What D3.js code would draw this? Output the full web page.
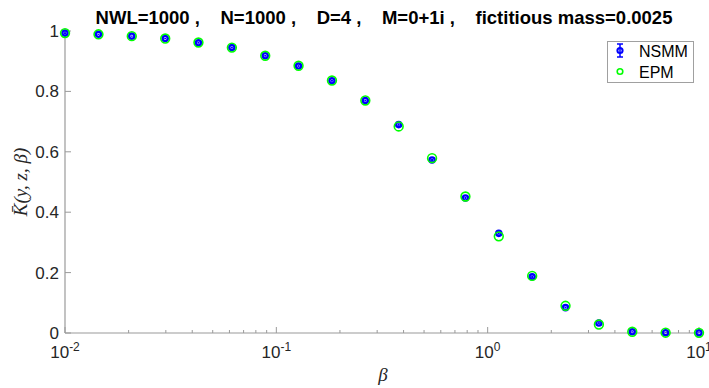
<!DOCTYPE html>
<html>
<head>
<meta charset="utf-8">
<script src="https://cdn.jsdelivr.net/npm/d3@7"></script>
<style>
  body { margin: 0; background: #fff; }
  svg { display: block; font-family: "Liberation Sans", Arial, sans-serif; }
</style>
</head>
<body>
<div id="chart"></div>
<script>
// data
const beta = [0.01, 0.0144, 0.0207, 0.0298, 0.0428, 0.0616, 0.0886, 0.1274, 0.1833, 0.2637,
              0.3793, 0.5456, 0.7848, 1.1288, 1.6238, 2.3357, 3.3598, 4.8329, 6.9519, 10];
const nsmm = [0.993, 0.989, 0.983, 0.975, 0.961, 0.945, 0.918, 0.884, 0.835, 0.770,
              0.690, 0.573, 0.447, 0.330, 0.186, 0.084, 0.033, 0.004, 0.001, 0.0005];
const nsmmErr = [0.003, 0.002, 0.002, 0.002, 0.003, 0.003, 0.003, 0.003, 0.003, 0.003,
                 0.004, 0.004, 0.004, 0.004, 0.004, 0.003, 0.003, 0.002, 0.001, 0.001];
const epm = [0.993, 0.989, 0.983, 0.975, 0.962, 0.945, 0.918, 0.885, 0.836, 0.770,
             0.684, 0.579, 0.452, 0.320, 0.189, 0.090, 0.028, 0.004, 0.001, 0.0005];
const xTicks = [0.01, 0.1, 1, 10];
const xExp = ["-2", "-1", "0", "1"];
const yTicks = [0, 0.2, 0.4, 0.6, 0.8, 1];
const title = "NWL=1000 ,    N=1000 ,    D=4 ,    M=0+1i ,    fictitious mass=0.0025";

const width = 709, height = 388;
const axisColor = "#9a9a9a", textColor = "#262626";

const svg = d3.select("#chart").append("svg")
  .attr("width", width).attr("height", height);

const x = d3.scaleLog().domain([0.01, 10]).range([65, 699]);
const y = d3.scaleLinear().domain([0, 1]).range([333, 31]);

// x axis: line + inward ticks (major and minor)
const minor = [];
[0.01, 0.1, 1].forEach(d => { for (let k = 2; k <= 9; k++) minor.push(d * k); });

const gx = svg.append("g");
gx.append("line")
  .attr("x1", x.range()[0]).attr("x2", x.range()[1])
  .attr("y1", y(0)).attr("y2", y(0))
  .attr("stroke", axisColor).attr("stroke-width", 1.2);
gx.selectAll("line.maj").data(xTicks).join("line").attr("class", "maj")
  .attr("x1", d => x(d)).attr("x2", d => x(d))
  .attr("y1", y(0)).attr("y2", y(0) - 6)
  .attr("stroke", axisColor);
gx.selectAll("line.min").data(minor).join("line").attr("class", "min")
  .attr("x1", d => x(d)).attr("x2", d => x(d))
  .attr("y1", y(0)).attr("y2", y(0) - 3)
  .attr("stroke", axisColor);
const xl = gx.selectAll("text").data(xTicks).join("text")
  .attr("x", d => x(d)).attr("y", 358)
  .attr("text-anchor", "middle")
  .attr("fill", textColor).attr("font-size", 17);
xl.append("tspan").text("10");
xl.append("tspan").attr("dy", -7).attr("font-size", 12).text((d, i) => xExp[i]);

// y axis
const gy = svg.append("g");
gy.append("line")
  .attr("x1", x(0.01)).attr("x2", x(0.01))
  .attr("y1", y(0)).attr("y2", y(1))
  .attr("stroke", axisColor).attr("stroke-width", 1.2);
gy.selectAll("line.tk").data(yTicks).join("line").attr("class", "tk")
  .attr("x1", x(0.01)).attr("x2", x(0.01) + 6)
  .attr("y1", d => y(d)).attr("y2", d => y(d))
  .attr("stroke", axisColor);
gy.selectAll("text").data(yTicks).join("text")
  .attr("x", 59).attr("y", d => y(d) + 6)
  .attr("text-anchor", "end")
  .attr("fill", textColor).attr("font-size", 17)
  .text(d => d3.format("")(d));

// axis labels
svg.append("text")
  .attr("x", 383).attr("y", 381)
  .attr("text-anchor", "middle")
  .attr("font-family", "Liberation Serif, serif").attr("font-style", "italic")
  .attr("font-size", 19).attr("fill", textColor)
  .text("β");
svg.append("text")
  .attr("transform", `translate(27,${y(0.5)}) rotate(-90)`)
  .attr("text-anchor", "middle")
  .attr("font-family", "Liberation Serif, serif").attr("font-style", "italic")
  .attr("font-size", 19).attr("fill", textColor)
  .text("K\u0304(y, z, β)");

// title
svg.append("text")
  .attr("x", 384).attr("y", 24)
  .attr("text-anchor", "middle")
  .attr("font-weight", "bold").attr("font-size", 18.5)
  .attr("fill", "#000")
  .style("white-space", "pre")
  .text(title);

// NSMM: error bars + blue circles
const pts = svg.append("g");
pts.selectAll("line.err").data(beta).join("line").attr("class", "err")
  .attr("x1", d => x(d)).attr("x2", d => x(d))
  .attr("y1", (d, i) => y(nsmm[i] - nsmmErr[i]))
  .attr("y2", (d, i) => y(nsmm[i] + nsmmErr[i]))
  .attr("stroke", "#0000ff").attr("stroke-width", 2);
pts.selectAll("circle.nsmm").data(beta).join("circle").attr("class", "nsmm")
  .attr("cx", d => x(d)).attr("cy", (d, i) => y(nsmm[i]))
  .attr("r", 2.6).attr("fill", "none")
  .attr("stroke", "#0000ff").attr("stroke-width", 2.4);
// EPM: green rings
pts.selectAll("circle.epm").data(beta).join("circle").attr("class", "epm")
  .attr("cx", d => x(d)).attr("cy", (d, i) => y(epm[i]))
  .attr("r", 4.4).attr("fill", "none")
  .attr("stroke", "#00ff00").attr("stroke-width", 1.6);

// legend
const lg = svg.append("g");
lg.append("rect")
  .attr("x", 607.5).attr("y", 41.5).attr("width", 86).attr("height", 41)
  .attr("fill", "#fff").attr("stroke", "#a0a0a0");
lg.append("line").attr("x1", 620).attr("x2", 620).attr("y1", 44).attr("y2", 57)
  .attr("stroke", "#0000ff").attr("stroke-width", 1.5);
[44, 57].forEach(v => lg.append("line")
  .attr("x1", 617).attr("x2", 623).attr("y1", v).attr("y2", v)
  .attr("stroke", "#0000ff").attr("stroke-width", 1.5));
lg.append("circle").attr("cx", 620).attr("cy", 50.5).attr("r", 2.6)
  .attr("fill", "none").attr("stroke", "#0000ff").attr("stroke-width", 2);
lg.append("circle").attr("cx", 620).attr("cy", 71.5).attr("r", 2.8)
  .attr("fill", "none").attr("stroke", "#00ff00").attr("stroke-width", 1.6);
lg.append("text").attr("x", 639).attr("y", 56.5)
  .attr("font-size", 16).attr("fill", "#000").text("NSMM");
lg.append("text").attr("x", 639).attr("y", 77.5)
  .attr("font-size", 16).attr("fill", "#000").text("EPM");
</script>
</body>
</html>
